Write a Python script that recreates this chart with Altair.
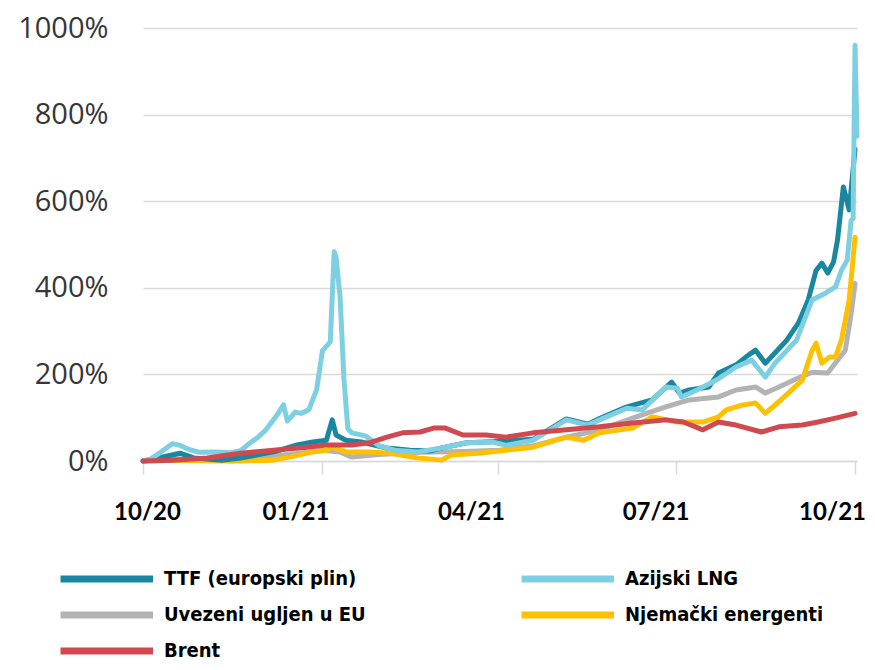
import altair as alt
import pandas as pd

# legend fills column by column: col 1 = TTF, ugljen, Brent; col 2 = LNG, Njemački
series_names = ["TTF (europski plin)", "Uvezeni ugljen u EU", "Brent", "Azijski LNG", "Njemački energenti"]
series_colors = ["#1a87a0", "#b3b3b3", "#d04950", "#7ecfe2", "#ffc000"]
draw_order = ["Uvezeni ugljen u EU", "Njemački energenti", "TTF (europski plin)", "Azijski LNG", "Brent"]

lng_dates = ["2020-10-01", "2020-10-05", "2020-10-10", "2020-10-16", "2020-10-20", "2020-10-25", "2020-10-30",
             "2020-11-07", "2020-11-15", "2020-11-20", "2020-11-25", "2020-11-29", "2020-12-03", "2020-12-09",
             "2020-12-12", "2020-12-14", "2020-12-18", "2020-12-21", "2020-12-25", "2020-12-29", "2021-01-01",
             "2021-01-05", "2021-01-07", "2021-01-08", "2021-01-10", "2021-01-12", "2021-01-14", "2021-01-16",
             "2021-01-23", "2021-01-30", "2021-02-07", "2021-02-19", "2021-03-03", "2021-03-16", "2021-03-29",
             "2021-04-05", "2021-04-19", "2021-05-06", "2021-05-17", "2021-05-23", "2021-06-06", "2021-06-14",
             "2021-06-26", "2021-07-02", "2021-07-04", "2021-07-12", "2021-07-22", "2021-08-01", "2021-08-09",
             "2021-08-16", "2021-08-21", "2021-09-01", "2021-09-09", "2021-09-16", "2021-09-21", "2021-09-24",
             "2021-09-27", "2021-09-29", "2021-09-30", "2021-10-01", "2021-10-02"]
lng_values = [0, 5, 20, 40, 36, 26, 20,
              21, 19, 24, 42, 55, 72, 108,
              130, 92, 113, 110, 118, 165, 255,
              275, 483, 470, 380, 190, 75, 65,
              58, 35, 25, 21, 30, 42, 44,
              36, 48, 95, 83, 95, 122, 118,
              171, 168, 148, 164, 187, 217, 233,
              194, 226, 279, 372, 388, 402, 440,
              464, 556, 560, 960, 750]

ttf_dates = ["2020-10-01", "2020-10-10", "2020-10-20", "2020-10-27", "2020-11-11", "2020-11-20", "2020-12-07",
             "2020-12-19", "2020-12-27", "2021-01-03", "2021-01-06", "2021-01-08", "2021-01-13", "2021-01-21",
             "2021-02-03", "2021-02-15", "2021-02-25", "2021-03-05", "2021-03-16", "2021-03-26", "2021-04-19",
             "2021-05-06", "2021-05-17", "2021-05-23", "2021-06-06", "2021-06-19", "2021-06-29", "2021-07-03",
             "2021-07-08", "2021-07-18", "2021-07-23", "2021-08-01", "2021-08-06", "2021-08-11", "2021-08-16",
             "2021-08-19", "2021-08-27", "2021-09-02", "2021-09-07", "2021-09-11", "2021-09-14", "2021-09-17",
             "2021-09-20", "2021-09-22", "2021-09-25", "2021-09-28", "2021-10-01"]
ttf_values = [0, 8, 18, 7, 2, 7, 21,
              37, 44, 48, 95, 60, 48, 44,
              30, 25, 23, 32, 42, 44, 50,
              97, 85, 98, 125, 141, 182, 157,
              164, 171, 203, 222, 240, 256, 226,
              240, 279, 319, 372, 440, 457, 434,
              460, 510, 633, 580, 720]

coal_dates = ["2020-10-01", "2020-10-15", "2020-11-01", "2020-11-20", "2020-12-15", "2021-01-01", "2021-01-10",
              "2021-01-16", "2021-01-30", "2021-02-20", "2021-03-15", "2021-04-02", "2021-04-19", "2021-05-06",
              "2021-05-23", "2021-06-09", "2021-06-26", "2021-07-08", "2021-07-23", "2021-08-01", "2021-08-11",
              "2021-08-16", "2021-08-23", "2021-09-01", "2021-09-09", "2021-09-17", "2021-09-26", "2021-09-29",
              "2021-10-01"]
coal_values = [0, 5, 4, 8, 15, 25, 21,
               9, 15, 20, 22, 25, 35, 55,
               72, 99, 125, 141, 148, 164, 171,
               157, 171, 190, 205, 203, 256, 340,
               410]

de_dates = ["2020-10-01", "2020-10-20", "2020-11-10", "2020-11-20", "2020-12-07", "2020-12-15", "2020-12-27",
            "2021-01-03", "2021-01-06", "2021-01-13", "2021-01-25", "2021-02-05", "2021-02-19", "2021-03-03",
            "2021-03-08", "2021-03-22", "2021-04-05", "2021-04-19", "2021-05-06", "2021-05-15", "2021-05-23",
            "2021-06-09", "2021-06-19", "2021-07-02", "2021-07-15", "2021-07-23", "2021-07-27", "2021-08-04",
            "2021-08-11", "2021-08-16", "2021-08-24", "2021-09-04", "2021-09-09", "2021-09-11", "2021-09-14",
            "2021-09-18", "2021-09-21", "2021-09-24", "2021-09-28", "2021-10-01"]
de_values = [0, 2, 0, 0, 2, 9, 21,
             25, 32, 21, 21, 18, 7, 2,
             14, 18, 25, 32, 55, 48, 65,
             76, 102, 90, 90, 102, 118, 129,
             134, 110, 141, 187, 256, 272, 226,
             240, 240, 279, 372, 517]

brent_dates = ["2020-10-01", "2020-10-16", "2020-11-03", "2020-11-20", "2020-12-07", "2020-12-24", "2021-01-03",
               "2021-01-16", "2021-01-25", "2021-02-03", "2021-02-11", "2021-02-20", "2021-02-27", "2021-03-05",
               "2021-03-14", "2021-03-26", "2021-04-05", "2021-04-19", "2021-05-06", "2021-05-23", "2021-06-09",
               "2021-06-26", "2021-07-05", "2021-07-15", "2021-07-23", "2021-08-01", "2021-08-14", "2021-08-23",
               "2021-09-04", "2021-09-12", "2021-09-21", "2021-10-01"]
brent_values = [0, 2, 7, 18, 25, 32, 37,
                37, 42, 55, 65, 67, 76, 76,
                60, 60, 55, 65, 72, 79, 88,
                95, 90, 72, 90, 83, 67, 79,
                83, 90, 99, 110]

y_ticks = [0, 200, 400, 600, 800, 1000]

frames = []
for name, d, v in [("TTF (europski plin)", ttf_dates, ttf_values),
                   ("Azijski LNG", lng_dates, lng_values),
                   ("Uvezeni ugljen u EU", coal_dates, coal_values),
                   ("Njemački energenti", de_dates, de_values),
                   ("Brent", brent_dates, brent_values)]:
    frames.append(pd.DataFrame({"date": d, "value": v, "series": name}))
df = pd.concat(frames, ignore_index=True)

x_ticks = [alt.DateTime(year=2020, month=10, date=1, utc=True),
           alt.DateTime(year=2021, month=1, date=1, utc=True),
           alt.DateTime(year=2021, month=4, date=1, utc=True),
           alt.DateTime(year=2021, month=7, date=1, utc=True),
           alt.DateTime(year=2021, month=10, date=1, utc=True)]

x_enc = alt.X("date:T",
              scale=alt.Scale(domain=[alt.DateTime(year=2020, month=10, date=1, utc=True),
                                      alt.DateTime(year=2021, month=10, date=2, utc=True)]),
              axis=alt.Axis(values=x_ticks, labelExpr="utcFormat(datum.value, '%m/%y')",
                            grid=False, domainColor="#d9d9d9", domainWidth=1.5,
                            tickColor="#d9d9d9", tickWidth=1.5, tickSize=13,
                            labelPadding=26, labelFont="Lato", labelFontWeight="bold",
                            labelFontSize=24, labelColor="#000000", labelFlush=False,
                            labelOverlap=False, title=None,
                            labelOffset={"condition": [
                                {"test": "datum.value < 1601800000000", "value": 4},
                                {"test": "datum.value < 1620000000000", "value": -27},
                                {"test": "datum.value < 1630000000000", "value": -20}],
                                "value": -23}))
y_enc = alt.Y("value:Q", scale=alt.Scale(domain=[0, 1000], nice=False),
              axis=alt.Axis(values=y_ticks, labelExpr="datum.value + '%'", domain=False, ticks=False,
                            labelPadding=35, labelFontSize=29, labelFont="Open Sans",
                            labelColor="#363636", grid=True, gridColor="#d9d9d9", gridWidth=1.5,
                            title=None))
legend = alt.Legend(title=None, orient="none", legendX=-86, legendY=529, columns=2,
                    columnPadding=141, rowPadding=0,
                    symbolType="M-1,0H4", symbolStrokeWidth=7, symbolSize=1369,
                    labelFont="'DejaVu Sans Condensed', 'Liberation Sans Narrow', Roboto, sans-serif",
                    labelFontWeight="bold", labelFontSize=20, labelColor="#000000",
                    labelOffset=63, labelLimit=400)
color_enc = alt.Color("series:N", scale=alt.Scale(domain=series_names, range=series_colors), legend=legend)

base = alt.Chart(df)
layers = []
for name in draw_order:
    layers.append(base.mark_line(strokeWidth=5, strokeCap="round", strokeJoin="round")
                  .transform_filter(alt.datum.series == name)
                  .encode(x=x_enc, y=y_enc, color=color_enc))

chart = alt.layer(*layers).properties(
    width=714, height=433, autosize="none",
    padding={"left": 135, "top": 20, "right": 10, "bottom": 201}
).configure_view(stroke=None)

chart.save("out.html", embed_options={"renderer": "svg", "actions": False})
